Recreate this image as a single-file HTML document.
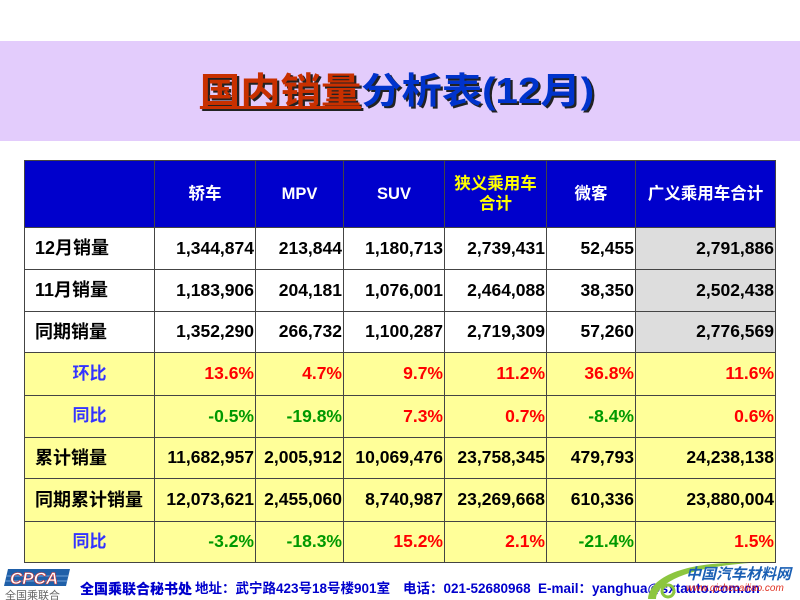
<!DOCTYPE html>
<html><head><meta charset="utf-8">
<style>
*{margin:0;padding:0;box-sizing:border-box}
html,body{width:800px;height:600px;overflow:hidden;background:#fff;position:relative;font-family:"Liberation Sans","Noto Sans CJK SC",sans-serif}
.band{position:absolute;left:0;top:41px;width:800px;height:100px;background:#E3CCFC}
.title{position:absolute;left:0;top:41px;width:800px;height:100px;display:flex;align-items:center;justify-content:center}
.title span.t{display:inline-block;transform:scaleX(1.12);font-size:36px;font-weight:bold;white-space:nowrap;text-shadow:2px 2px 0 #222;line-height:1;margin-left:-6px}
.red{color:#C83000;text-decoration:underline;text-decoration-thickness:3px;text-underline-offset:3px}
.blue{color:#0033CC}
.grid{position:absolute;left:24px;top:160px;background:#444;padding:1px;display:grid;gap:1px;
grid-template-columns:129px 100px 87px 100px 101px 88px 139px;
grid-template-rows:66px 41px 41px 40px 42px 41px 40px 42px 40px}
.grid div{display:flex;align-items:center;justify-content:flex-end;padding-right:1px;font-weight:bold;font-size:17.5px;color:#000;white-space:nowrap;background:#fff;line-height:1}
.grid div.h{background:#0000CC;color:#fff;justify-content:center;font-size:16.5px;text-align:center;padding:0;line-height:20px}
.grid div.hy{color:#FFFF00}
.grid div.l{justify-content:flex-start;padding-left:10px;font-size:18px;padding-bottom:1px}
.grid div.c{justify-content:center;color:#3333FF;font-size:17px;padding:0 0 2px 0}
.grid div.y{background:#FFFF99}
.grid div.g{background:#DDDDDD}
.r{color:#FF0000 !important}
.gr{color:#009900 !important}
.foot{position:absolute;top:580px;font-size:13.5px;font-weight:bold;color:#0000CC;white-space:nowrap;line-height:18px}
</style></head><body>
<div class="band"></div>
<div class="title"><span class="t"><span class="red">国内销量</span><span class="blue">分析表(12月)</span></span></div>

<div class="grid">
<div class="h"></div><div class="h">轿车</div><div class="h">MPV</div><div class="h">SUV</div><div class="h hy">狭义乘用车<br>合计</div><div class="h">微客</div><div class="h">广义乘用车合计</div>

<div class="l">12月销量</div><div>1,344,874</div><div>213,844</div><div>1,180,713</div><div>2,739,431</div><div>52,455</div><div class="g">2,791,886</div>
<div class="l">11月销量</div><div>1,183,906</div><div>204,181</div><div>1,076,001</div><div>2,464,088</div><div>38,350</div><div class="g">2,502,438</div>
<div class="l">同期销量</div><div>1,352,290</div><div>266,732</div><div>1,100,287</div><div>2,719,309</div><div>57,260</div><div class="g">2,776,569</div>

<div class="c y">环比</div><div class="y r">13.6%</div><div class="y r">4.7%</div><div class="y r">9.7%</div><div class="y r">11.2%</div><div class="y r">36.8%</div><div class="y r">11.6%</div>
<div class="c y">同比</div><div class="y gr">-0.5%</div><div class="y gr">-19.8%</div><div class="y r">7.3%</div><div class="y r">0.7%</div><div class="y gr">-8.4%</div><div class="y r">0.6%</div>
<div class="l y">累计销量</div><div class="y">11,682,957</div><div class="y">2,005,912</div><div class="y">10,069,476</div><div class="y">23,758,345</div><div class="y">479,793</div><div class="y">24,238,138</div>
<div class="l y">同期累计销量</div><div class="y">12,073,621</div><div class="y">2,455,060</div><div class="y">8,740,987</div><div class="y">23,269,668</div><div class="y">610,336</div><div class="y">23,880,004</div>
<div class="c y">同比</div><div class="y gr">-3.2%</div><div class="y gr">-18.3%</div><div class="y r">15.2%</div><div class="y r">2.1%</div><div class="y gr">-21.4%</div><div class="y r">1.5%</div>
</div>

<!-- CPCA logo -->
<svg style="position:absolute;left:0;top:566px" width="75" height="34">
<polygon points="8,3 70,3 66,20 4,20" fill="#1F5FA8"/>
<line x1="6" y1="10" x2="68" y2="10" stroke="#6FA0D8" stroke-width="1"/>
<line x1="5" y1="15" x2="67" y2="15" stroke="#6FA0D8" stroke-width="1"/>
<text x="10" y="18" font-family="Liberation Sans" font-style="italic" font-weight="bold" font-size="17" fill="#fff" stroke="#D03030" stroke-width="0.6">CPCA</text>
<text x="5" y="33" font-family="Noto Sans CJK SC" font-size="11" fill="#666">全国乘联合</text>
</svg>
<div class="foot" style="left:80px;font-size:14px;font-family:'Noto Sans CJK SC',sans-serif;font-weight:900">全国乘联合秘书处</div>
<div class="foot" style="left:195px">地址：武宁路423号18号楼901室</div>
<div class="foot" style="left:403px">电话：021-52680968</div>
<div class="foot" style="left:538px">E-mail：yanghua@sxtauto.com.cn</div>

<!-- watermark -->
<svg style="position:absolute;left:640px;top:555px" width="160" height="45">
<path d="M8,44 C10,20 50,6 110,8 C80,10 40,16 22,32 C18,36 16,40 16,44 Z" fill="#8CC63F"/>
<circle cx="28" cy="36" r="6" fill="none" stroke="#8CC63F" stroke-width="3"/>
<text x="46" y="24" font-family="Noto Sans CJK SC" font-weight="bold" font-style="italic" font-size="15" fill="#1A5FB4">中国汽车材料网</text>
<text x="46" y="36" font-family="Liberation Sans" font-style="italic" font-size="10" fill="#E03020">www.qichecailiao.com</text>
</svg>
</body></html>
